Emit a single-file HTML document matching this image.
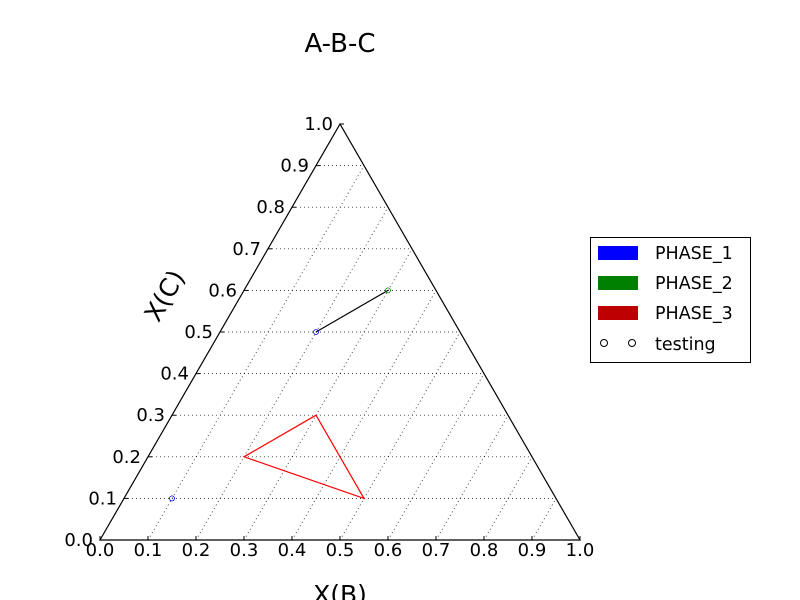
<!DOCTYPE html>
<html><head><meta charset="utf-8"><style>
body{margin:0;background:#fff;}
svg{display:block;font-family:"DejaVu Sans","Liberation Sans",sans-serif;}
</style></head><body>
<svg id="chart" width="800" height="600">
<g id="grid"></g>
<g id="axes"></g>
<g id="marks"></g>
<text x="340" y="52" font-size="26" text-anchor="middle">A-B-C</text>
<text x="340" y="603" font-size="25" text-anchor="middle">X(B)</text>
<text transform="translate(172,300) rotate(-60)" font-size="25" text-anchor="middle">X(C)</text>
<g>
<rect x="590.5" y="237.5" width="160" height="125" fill="#fff" stroke="#000"/>
<rect x="598" y="246" width="40" height="14" fill="#0000ff"/>
<text x="655" y="259" font-size="17.5">PHASE_1</text>
<rect x="598" y="276" width="40" height="14" fill="#008000"/>
<text x="655" y="289" font-size="17.5">PHASE_2</text>
<rect x="598" y="306" width="40" height="14" fill="#bf0000"/>
<text x="655" y="319" font-size="17.5">PHASE_3</text>
<circle cx="604" cy="343" r="3.5" fill="none" stroke="#000"/>
<circle cx="632" cy="343" r="3.5" fill="none" stroke="#000"/>
<text x="655" y="350" font-size="17.5">testing</text>
</g>
</svg>
<script>
const ticks = [0,0.1,0.2,0.3,0.4,0.5,0.6,0.7,0.8,0.9,1.0];
const tickLabels = ["0.0","0.1","0.2","0.3","0.4","0.5","0.6","0.7","0.8","0.9","1.0"];
const tieB = [0.2, 0.3];
const tieC = [0.5, 0.6];
const phase1B = [0.2, 0.1];
const phase1C = [0.5, 0.1];
const phase2B = [0.3];
const phase2C = [0.6];
const phase3B = [0.3, 0.2, 0.5];
const phase3C = [0.3, 0.2, 0.1];

const NS="http://www.w3.org/2000/svg";
const X0=100, W=480, Y0=540, H=416;
function px(b,c){return X0+W*(b+c/2);}
function py(c){return Y0-H*c;}
function mk(tag,attrs,parent){const e=document.createElementNS(NS,tag);for(const k in attrs)e.setAttribute(k,attrs[k]);parent.appendChild(e);return e;}
const grid=document.getElementById('grid'), axes=document.getElementById('axes'), marks=document.getElementById('marks');

ticks.forEach((t,i)=>{
  if(t>0&&t<1){
    const h=mk('line',{x1:px(0,t),y1:py(t),x2:px(1-t,t),y2:py(t),stroke:'#000','stroke-width':0.7,'stroke-dasharray':'1,3'},grid);
    
    
    const d=mk('line',{x1:px(t,0),y1:py(0),x2:px(t,1-t),y2:py(1-t),stroke:'#000','stroke-width':0.7,'stroke-dasharray':'1,3'},grid);
    
    
  }
  const tl=mk('line',{x1:px(0,t),y1:py(t),x2:px(0,t)+4,y2:py(t),stroke:'#000'},axes);
  
  
  const lt=mk('text',{x:px(0,t)-7,y:py(t)+6,'font-size':18,'text-anchor':'end'},axes);
  lt.textContent=tickLabels[i];
  
  
  const bt=mk('line',{x1:px(t,0),y1:py(0),x2:px(t,0),y2:py(0)-4,stroke:'#000'},axes);
  
  
  const bl=mk('text',{x:px(t,0),y:py(0)+16,'font-size':18,'text-anchor':'middle'},axes);
  bl.textContent=tickLabels[i];
  
  
});
const tri=mk('polygon',{points:`${px(0,0)},${py(0)} ${px(1,0)},${py(0)} ${px(0,1)},${py(1)}`,fill:'none',stroke:'#000','stroke-width':1.2},axes);



const tie=mk('line',{x1:px(tieB[0],tieC[0]),y1:py(tieC[0]),x2:px(tieB[1],tieC[1]),y2:py(tieC[1]),stroke:'#000','stroke-width':1.2},marks);


const p3=mk('polygon',{points:phase3B.map((b,i)=>px(b,phase3C[i])+','+py(phase3C[i])).join(' '),fill:'none',stroke:'#ff0000','stroke-width':1.2},marks);


phase1B.forEach((b,i)=>{
  const c=mk('circle',{cx:px(b,phase1C[i]),cy:py(phase1C[i]),r:2.5,fill:'none',stroke:'#0000ff','stroke-width':0.8},marks);
  
  
});
phase2B.forEach((b,i)=>{
  const c=mk('circle',{cx:px(b,phase2C[i]),cy:py(phase2C[i]),r:2.5,fill:'none',stroke:'#008000','stroke-width':0.8},marks);
  
  
});
</script>
</body></html>
